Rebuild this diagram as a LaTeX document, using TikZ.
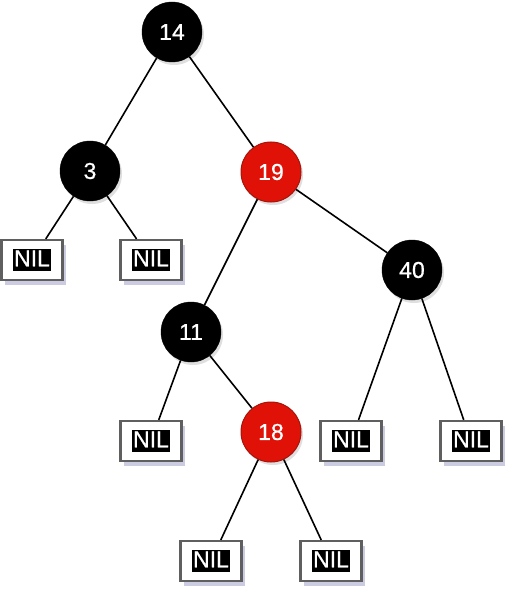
\documentclass[tikz,border=0pt]{standalone}
\usepackage{fontspec}
\setmainfont{Liberation Sans}
\newfontfamily\treefont[FakeBold=0.7]{Liberation Sans}
\usetikzlibrary{shadows}
\definecolor{rbred}{RGB}{224,18,8}
\definecolor{rbredline}{RGB}{165,20,10}
\definecolor{nilline}{RGB}{95,95,95}
\definecolor{nilshadow}{RGB}{140,140,190}
\newcommand{\niltext}{{\setlength{\fboxsep}{1.3pt}\colorbox{black}{\color{white}\rule[-3.5pt]{0pt}{19.5pt}NIL}}}
\tikzset{
  blacknode/.style={circle, fill=black, draw=black, minimum size=60pt, inner sep=0pt, text=white, font=\treefont\fontsize{23}{27}\selectfont, drop shadow={opacity=0.25, shadow xshift=2pt, shadow yshift=-3pt}},
  rednode/.style={circle, fill=rbred, draw=rbredline, line width=1pt, minimum size=60pt, inner sep=0pt, text=white, font=\treefont\fontsize{23}{27}\selectfont, drop shadow={opacity=0.25, shadow xshift=2pt, shadow yshift=-3pt}},
  nilbox/.style={rectangle, fill=white, draw=nilline, line width=2.2pt, minimum width=61pt, minimum height=40pt, inner sep=0pt, font=\treefont\fontsize{23}{27}\selectfont, drop shadow={fill=nilshadow, opacity=0.45, shadow xshift=3pt, shadow yshift=-5pt}},
  link/.style={draw=black, line width=1.6pt}
}

\begin{document}
\begin{tikzpicture}[x=1pt, y=-1pt]
  \useasboundingbox (0,0) rectangle (524,604);

  \node[blacknode] (n14) at (172,32) {14};
  \node[blacknode] (n3) at (90,171) {3};
  \node[rednode] (n19) at (271,172) {19};
  \node[blacknode] (n40) at (412,270) {40};
  \node[blacknode] (n11) at (191,332) {11};
  \node[rednode] (n18) at (271,432) {18};

  \node[nilbox] (nil1) at (32,260) {\niltext};
  \node[nilbox] (nil2) at (151,260) {\niltext};
  \node[nilbox] (nil3) at (151,441) {\niltext};
  \node[nilbox] (nil4) at (351,441) {\niltext};
  \node[nilbox] (nil5) at (471,441) {\niltext};
  \node[nilbox] (nil6) at (211,561) {\niltext};
  \node[nilbox] (nil7) at (331,561) {\niltext};

  \draw[link] (n14) -- (n3);
  \draw[link] (n14) -- (n19);
  \draw[link] (n3) -- (nil1);
  \draw[link] (n3) -- (nil2);
  \draw[link] (n19) -- (n11);
  \draw[link] (n19) -- (n40);
  \draw[link] (n11) -- (nil3);
  \draw[link] (n11) -- (n18);
  \draw[link] (n40) -- (nil4);
  \draw[link] (n40) -- (nil5);
  \draw[link] (n18) -- (nil6);
  \draw[link] (n18) -- (nil7);
\end{tikzpicture}
\end{document}
